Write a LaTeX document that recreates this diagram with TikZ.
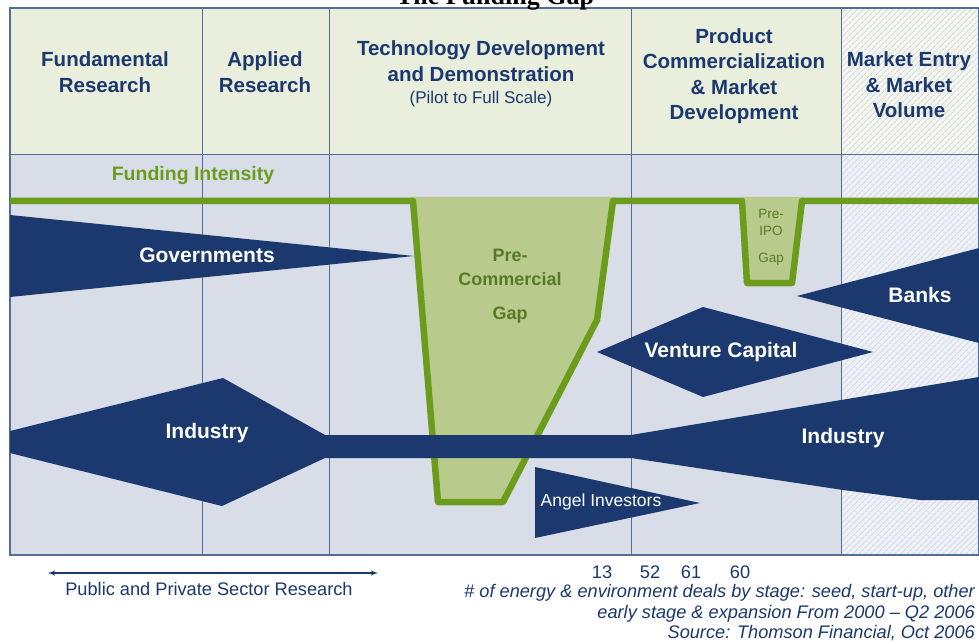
\documentclass[tikz,border=0pt]{standalone}
\usepackage{fontspec}
\setmainfont{Liberation Sans}
\newfontfamily\titlefont{Liberation Serif}
\usetikzlibrary{arrows,patterns.meta}

\definecolor{navy}{RGB}{27,57,110}
\definecolor{headfill}{RGB}{234,238,220}
\definecolor{bodyfill}{RGB}{216,221,232}
\definecolor{gridline}{RGB}{84,108,150}
\definecolor{fundgreen}{RGB}{108,156,28}
\definecolor{gapfill}{RGB}{184,203,140}
\definecolor{gaptext}{RGB}{88,122,40}
\definecolor{hatchhead}{RGB}{244,246,237}
\definecolor{hatchbody}{RGB}{238,240,246}
\definecolor{hatch}{RGB}{212,216,226}

\tikzstyle{stage} = [align=center, text=navy, inner sep=0pt,
                font=\fontsize{20.5}{25.5}\selectfont\bfseries]
\tikzstyle{funder} = [text=white, inner sep=0pt, font=\fontsize{21}{25}\selectfont\bfseries]
\tikzstyle{gaplabel} = [align=center, text=gaptext, inner sep=0pt]
\tikzstyle{note} = [text=navy, inner sep=0pt, font=\fontsize{18.2}{21}\selectfont]
\tikzstyle{source} = [note, anchor=base east, font=\fontsize{18.2}{21}\selectfont\itshape]
\tikzstyle{line} = [draw, navy, line width=1.4pt, latex'-latex']

\begin{document}
\begin{tikzpicture}[x=1pt,y=-1pt]
        \useasboundingbox (0,0) rectangle (979,644);
        % panels
        \fill[white] (0,0) rectangle (979,644);
        \fill[headfill] (10,8) rectangle (841,155);
        \fill[bodyfill] (10,155) rectangle (841,555);
        \fill[hatchhead] (841,8) rectangle (979,155);
        \fill[hatchbody] (841,155) rectangle (979,555);
        \fill[pattern={Lines[angle=45,distance=4pt,line width=0.9pt]}, pattern color=hatch]
            (841,8) rectangle (979,555);
        % gaps below the funding line
        \fill[gapfill] (411,197) -- (616,197) -- (597,320) -- (503,502) -- (438,502) -- cycle;
        \fill[gapfill] (742,197) -- (803,197) -- (792,283) -- (747,283) -- cycle;
        % grid
        \draw[gridline, line width=1.3pt] (10,8) rectangle (979,555);
        \foreach \x in {202,329,631,841}
            \draw[gridline, line width=1pt] (\x,8) -- (\x,555);
        \draw[gridline, line width=1pt] (10,155) -- (979,155);
        % funding intensity
        \draw[fundgreen, line width=6.5pt, line join=round]
            (10,201) -- (413,201) -- (438,502) -- (503,502) -- (597,320) -- (613,201)
            -- (742,201) -- (747,283) -- (792,283) -- (802,201) -- (979,201);
        % sources of money
        \fill[navy] (10,215) -- (414,256) -- (10,297) -- cycle;
        \fill[navy] (10,431) -- (223,378) -- (325,435) -- (631,435) -- (979,377)
            -- (979,500) -- (920,500) -- (843,490) -- (631,458) -- (325,458)
            -- (222,506) -- (10,453) -- cycle;
        \fill[navy] (597,352) -- (703,307) -- (873,352) -- (703,397) -- cycle;
        \fill[navy] (797,296) -- (979,248) -- (979,343) -- cycle;
        \fill[navy] (535,467) -- (700,503) -- (535,538) -- cycle;

        \node[anchor=base, font=\titlefont\fontsize{26}{30}\selectfont\bfseries](title) at (495,5){The Funding Gap};
        \node[stage](fundres) at (105,72){Fundamental\\Research};
        \node[stage](applres) at (265,72){Applied\\Research};
        \node[stage](techdev) at (481,61){Technology Development\\and Demonstration};
        \node[stage, font=\fontsize{17}{20}\selectfont](pilot) at (481,99){(Pilot to Full Scale)};
        \node[stage](prodcom) at (734,76){Product\\Commercialization\\\& Market\\Development};
        \node[stage](mktentry) at (909,85){Market Entry\\\& Market\\Volume};
        \node[text=fundgreen, font=\fontsize{19.5}{22}\selectfont\bfseries](intensity) at (193,176){Funding Intensity};

        \node[funder](govts) at (207,255){Governments};
        \node[funder](industry) at (207,433){Industry};
        \node[funder](industry2) at (843,438){Industry};
        \node[funder](venture) at (721,352){Venture Capital};
        \node[funder](banks) at (920,295){Banks};
        \node[funder, font=\fontsize{17.5}{20}\selectfont](angels) at (601,502){Angel Investors};

        \node[gaplabel, font=\fontsize{18}{24.5}\selectfont\bfseries](precom) at (510,286){Pre-\\Commercial\\[9pt]Gap};
        \node[gaplabel, font=\fontsize{13.5}{17.5}\selectfont](preipo) at (771,237){Pre-\\IPO\\[9pt]Gap};

        % research span
        \coordinate (spanl) at (48,573);
        \coordinate (spanr) at (378,573);
        \path[line] (spanl) -- (spanr);
        \node[note, anchor=base](research) at (209,595){Public and Private Sector Research};
        \foreach \n/\x in {13/602,52/650,61/691,60/740}
            \node[note, anchor=base](deals\n) at (\x,578){\n};
        \node[source](src1) at (975,597){\# of energy \& environment deals by stage: seed, start-up, other};
        \node[source](src2) at (975,618){early stage \& expansion From 2000 -- Q2 2006};
        \node[source](src3) at (975,638){Source: Thomson Financial, Oct 2006};
\end{tikzpicture}
\end{document}
